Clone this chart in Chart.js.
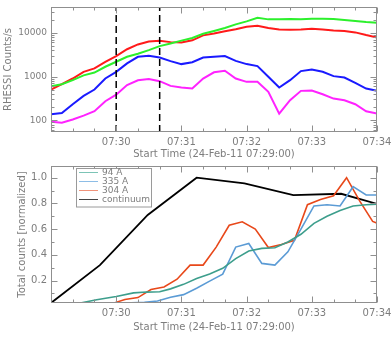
<!DOCTYPE html>
<html>
<head>
<meta charset="utf-8">
<script src="https://cdn.jsdelivr.net/npm/chart.js@4.4.1/dist/chart.umd.min.js"></script>
<style>
    html, body { margin: 0; padding: 0; background: #fff; }
    #wrap { position: relative; width: 392px; height: 337px; }
    #topChart { position: absolute; left: 0; top: 0; }
    #bottomChart { position: absolute; left: 0; top: 165px; }
</style>
</head>
<body>
<div id="wrap">
    <canvas id="topChart" width="392" height="165"></canvas>
    <canvas id="bottomChart" width="392" height="172"></canvas>
</div>
<script>
// RHESSI light curves, seconds after 07:29:00
const hsxTimes   = [0, 10, 20, 30, 40, 50, 60, 70, 80, 90, 100, 110, 120, 130, 140, 150, 160, 170, 180, 190, 200, 210, 220, 230, 240, 250, 260, 270, 280, 290, 300];
const hsxRed     = [504, 667, 900, 1280, 1530, 2170, 2930, 4200, 5400, 6300, 6560, 6100, 6000, 6700, 8700, 9600, 10800, 12000, 13700, 14450, 12780, 11920, 11710, 11920, 12350, 11920, 11300, 10920, 10180, 8840, 7820];
const hsxGreen   = [601, 667, 824, 1060, 1230, 1670, 2170, 2820, 3300, 4010, 4950, 5700, 6600, 7600, 9500, 11000, 12800, 15500, 18200, 22000, 20190, 20190, 20540, 20190, 20940, 20940, 20540, 19500, 18500, 17540, 16940];
const hsxBlue    = [137, 147, 233, 360, 505, 900, 1280, 1990, 2820, 2970, 2720, 2250, 1920, 2120, 2720, 2820, 2930, 2280, 1920, 1730, 983, 560, 824, 1330, 1450, 1280, 1020, 949, 716, 531, 470];
const hsxMagenta = [92, 88, 104, 128, 161, 272, 385, 640, 820, 880, 781, 610, 560, 531, 900, 1250, 1350, 900, 755, 755, 446, 142, 287, 470, 480, 394, 313, 287, 233, 161, 142];
const markerTimes = [60, 100];

// AIA normalized counts
const aia94Times  = [15, 27, 42, 60, 76, 88, 100, 110, 122, 134, 146, 158, 170, 182, 194, 206, 218, 230, 242, 254, 266, 278, 290, 302];
const aia94       = [0.0, 0.025, 0.05, 0.075, 0.104, 0.11, 0.112, 0.135, 0.17, 0.215, 0.25, 0.295, 0.37, 0.43, 0.45, 0.455, 0.50, 0.56, 0.645, 0.70, 0.745, 0.78, 0.79, 0.795];
const aia335Times = [50, 62, 74, 86, 98, 110, 122, 134, 146, 158, 170, 182, 194, 206, 218, 230, 242, 254, 266, 278, 290, 302];
const aia335      = [0.0, 0.022, 0.026, 0.03, 0.04, 0.07, 0.09, 0.14, 0.195, 0.25, 0.46, 0.488, 0.333, 0.32, 0.423, 0.6, 0.78, 0.79, 0.78, 0.93, 0.865, 0.865];
const aia304Times = [44, 56, 68, 80, 92, 104, 116, 128, 140, 152, 164, 176, 188, 200, 212, 224, 236, 248, 260, 272, 284, 296, 308];
const aia304      = [0.0, 0.02, 0.052, 0.067, 0.13, 0.15, 0.21, 0.32, 0.32, 0.46, 0.63, 0.657, 0.60, 0.457, 0.48, 0.513, 0.79, 0.83, 0.86, 1.0, 0.82, 0.66, 0.62];
const contTimes   = [0, 45, 89, 134, 178, 223, 267, 311];
const continuum   = [0.025, 0.32, 0.71, 1.0, 0.955, 0.865, 0.875, 0.77];

const axisGrey = '#8f8f8f';
const textGrey = '#7d7d7d';

Chart.defaults.font.family = "'DejaVu Sans', sans-serif";
Chart.defaults.font.size = 10;
Chart.defaults.color = textGrey;

function pairs(times, values) {
    return times.map((t, i) => ({ x: t, y: values[i] }));
}

function clockLabel(sec) {
    return '07:' + String(29 + Math.round(sec / 60)).padStart(2, '0');
}

function noPadding(scale) {
    scale.paddingLeft = 0;
    scale.paddingRight = 0;
    scale.paddingTop = 0;
    scale.paddingBottom = 0;
}

// IDL style box with inward tick marks on all four sides
const framePlugin = {
    id: 'idlFrame',
    afterDatasetsDraw(chart, args, opts) {
        const { ctx, chartArea: a, scales: { x, y } } = chart;
        const L = Math.round(a.left) + 0.5, R = Math.round(a.right) - 0.5;
        const T = Math.round(a.top) + 0.5, B = Math.round(a.bottom) - 0.5;
        ctx.save();
        ctx.strokeStyle = axisGrey;
        ctx.lineWidth = 1;
        ctx.beginPath();
        for (let t = x.min; t <= x.max; t += 20) {
            const px = Math.round(x.getPixelForValue(t)) + 0.5;
            const len = t % 60 === 0 ? 6 : 3;
            ctx.moveTo(px, B); ctx.lineTo(px, B - len);
            ctx.moveTo(px, T); ctx.lineTo(px, T + len);
        }
        opts.yTicks(y).forEach(([v, major]) => {
            const py = Math.round(y.getPixelForValue(v)) + 0.5;
            const len = major ? 6 : 3;
            ctx.moveTo(L, py); ctx.lineTo(L + len, py);
            ctx.moveTo(R, py); ctx.lineTo(R - len, py);
        });
        ctx.stroke();
        ctx.strokeRect(L, T, R - L, B - T);
        ctx.restore();
    }
};

const markerPlugin = {
    id: 'markers',
    afterDatasetsDraw(chart) {
        const { ctx, chartArea: a, scales: { x } } = chart;
        ctx.save();
        ctx.strokeStyle = '#000';
        ctx.lineWidth = 1.5;
        ctx.setLineDash([7, 4]);
        markerTimes.forEach(t => {
            const px = x.getPixelForValue(t);
            ctx.beginPath();
            ctx.moveTo(px, a.bottom);
            ctx.lineTo(px, a.top);
            ctx.stroke();
        });
        ctx.restore();
    }
};

const boxLegendPlugin = {
    id: 'boxLegend',
    afterDraw(chart) {
        const { ctx } = chart;
        ctx.save();
        ctx.fillStyle = '#fff';
        ctx.fillRect(76.5, 3.5, 75, 38.5);
        ctx.strokeStyle = '#9a9a9a';
        ctx.lineWidth = 1;
        ctx.strokeRect(76.5, 3.5, 75, 38.5);
        ctx.font = "9px 'DejaVu Sans', sans-serif";
        ctx.textBaseline = 'middle';
        ctx.fillStyle = textGrey;
        chart.data.datasets.forEach((ds, i) => {
            const yy = 7.5 + i * 9;
            ctx.strokeStyle = ds.legendColor;
            ctx.lineWidth = 1;
            ctx.beginPath();
            ctx.moveTo(79, yy);
            ctx.lineTo(98, yy);
            ctx.stroke();
            ctx.fillText(ds.label, 102, yy);
        });
        ctx.restore();
    }
};

function lineSet(label, data, color, width) {
    return { label, data, borderColor: color, borderWidth: width, pointRadius: 0, tension: 0, fill: false };
}

const timeAxis = (height, titleBottom) => ({
    type: 'linear',
    min: 0,
    max: 300,
    afterBuildTicks: s => { s.ticks = [60, 120, 180, 240, 300].map(v => ({ value: v })); },
    ticks: { callback: v => clockLabel(v), maxRotation: 0, autoSkip: false, padding: 4 },
    grid: { display: false, drawTicks: false },
    border: { display: false },
    title: { display: true, text: 'Start Time (24-Feb-11 07:29:00)', padding: { top: 0, bottom: titleBottom } },
    afterFit: s => { s.height = height; noPadding(s); }
});

// Top panel: RHESSI
new Chart(document.getElementById('topChart'), {
    type: 'line',
    data: {
        datasets: [
            lineSet('green', pairs(hsxTimes, hsxGreen), '#2cf02c', 2),
            lineSet('red', pairs(hsxTimes, hsxRed), '#ff1a1a', 2),
            lineSet('blue', pairs(hsxTimes, hsxBlue), '#1a1aff', 2),
            lineSet('magenta', pairs(hsxTimes, hsxMagenta), '#ff22ff', 2)
        ]
    },
    options: {
        responsive: false,
        animation: false,
        layout: { padding: { left: 0, right: 15, top: 7, bottom: 0 } },
        plugins: {
            legend: { display: false },
            tooltip: { enabled: false },
            idlFrame: {
                yTicks: y => {
                    const out = [];
                    for (let d = 10; d <= 10000; d *= 10) {
                        for (let m = 1; m <= 9; m++) {
                            const v = m * d;
                            if (v >= y.min && v <= y.max) out.push([v, m === 1]);
                        }
                    }
                    return out;
                }
            }
        },
        scales: {
            x: timeAxis(33, 5),
            y: {
                type: 'logarithmic',
                min: 54,
                max: 38700,
                afterBuildTicks: s => { s.ticks = [100, 1000, 10000].map(v => ({ value: v })); },
                ticks: { callback: v => String(v), padding: 4, font: { size: 9 } },
                grid: { display: false, drawTicks: false },
                border: { display: false },
                title: { display: true, text: 'RHESSI Counts/s', padding: { top: 2 } },
                afterFit: s => { s.width = 51; noPadding(s); }
            }
        }
    },
    plugins: [markerPlugin, framePlugin]
});

// Bottom panel: AIA
const bottomSets = [
    lineSet('94 A', pairs(aia94Times, aia94), '#3d9e8c', 1.6),
    lineSet('335 A', pairs(aia335Times, aia335), '#5b9bd5', 1.6),
    lineSet('304 A', pairs(aia304Times, aia304), '#e8481a', 1.6),
    lineSet('continuum', pairs(contTimes, continuum), '#000000', 1.8)
];
bottomSets[0].legendColor = '#7cc4b6';
bottomSets[1].legendColor = '#8dbde6';
bottomSets[2].legendColor = '#f0937a';
bottomSets[3].legendColor = '#444444';

new Chart(document.getElementById('bottomChart'), {
    type: 'line',
    data: { datasets: bottomSets },
    options: {
        responsive: false,
        animation: false,
        layout: { padding: { left: 14, right: 15, top: 1, bottom: 0 } },
        plugins: {
            legend: { display: false },
            tooltip: { enabled: false },
            idlFrame: {
                yTicks: y => {
                    const out = [];
                    for (let k = 1; k <= 10; k++) out.push([k / 10, k % 2 === 0]);
                    return out;
                }
            }
        },
        scales: {
            x: timeAxis(34, 4),
            y: {
                type: 'linear',
                min: 0.025,
                max: 1.091,
                afterBuildTicks: s => { s.ticks = [0.2, 0.4, 0.6, 0.8, 1.0].map(v => ({ value: v })); },
                ticks: { callback: v => v.toFixed(1), padding: 4 },
                grid: { display: false, drawTicks: false },
                border: { display: false },
                title: { display: true, text: 'Total counts [normalized]', padding: { top: 2 } },
                afterFit: s => { s.width = 37; noPadding(s); }
            }
        }
    },
    plugins: [framePlugin, boxLegendPlugin]
});
</script>
</body>
</html>
